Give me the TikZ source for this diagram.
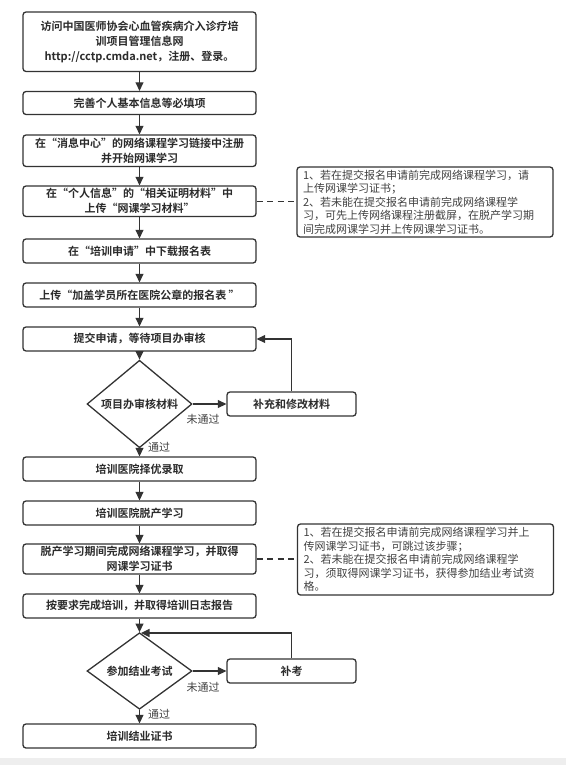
\documentclass[tikz,border=0pt]{standalone}
\usepackage{fontspec}
\setmainfont{Noto Sans CJK SC}[BoldFont={Noto Sans CJK SC Bold}]
\usetikzlibrary{shapes.geometric,arrows.meta}
\definecolor{ln}{HTML}{333333}
\definecolor{txt}{HTML}{2B2B2B}
\definecolor{ntxt}{HTML}{404040}
\definecolor{strip}{HTML}{EEEEEE}
\begin{document}
\begin{tikzpicture}[x=1pt,y=-1pt,
  box/.style={draw=ln,line width=1.3pt,rounded corners=3pt,minimum width=233pt,
    minimum height=24pt,inner sep=0pt,align=center,text=txt,
    font=\fontsize{11}{15}\selectfont\bfseries},
  side/.style={box,minimum width=129pt},
  dia/.style={draw=ln,line width=1.3pt,diamond,minimum width=105pt,minimum height=65pt,
    inner sep=0pt,text=txt,font=\fontsize{11}{15}\selectfont\bfseries},
  note/.style={draw=ln,line width=1.3pt,rounded corners=3pt,text width=244pt,
    minimum height=70pt,inner xsep=6pt,inner ysep=0pt,align=left,text=ntxt,
    font=\fontsize{11}{13.5}\selectfont},
  lbl/.style={inner sep=0pt,text=ntxt,font=\fontsize{11}{13}\selectfont},
  arr/.style={draw=ln,line width=1.2pt,-{Triangle[length=8.5pt,width=8pt]}},
  dsh/.style={draw=ln,line width=1.3pt,dash pattern=on 6pt off 4.5pt}]
\useasboundingbox (0,0) rectangle (566,765);
\fill[strip] (0,758) rectangle (566,765);

\node[box,minimum height=59.5pt] (b1) at (139.5,41.75)
  {访问中国医师协会心血管疾病介入诊疗培\\训项目管理信息网\\http://cctp.cmda.net，注册、登录。};
\node[box,minimum height=23pt] (b2) at (139.5,103) {完善个人基本信息等必填项};
\node[box,minimum height=31.5pt] (b3) at (139.5,150.75)
  {在“消息中心”的网络课程学习链接中注册\\并开始网课学习};
\node[box,minimum height=30.5pt] (b4) at (139.5,201.25)
  {在“个人信息”的“相关证明材料”中\\上传“网课学习材料”};
\node[box] (b5) at (139.5,251) {在“培训申请”中下载报名表};
\node[box] (b6) at (139.5,295) {上传“加盖学员所在医院公章的报名表\ ”};
\node[box] (b7) at (139.5,339) {提交申请，等待项目办审核};
\node[dia] (d1) at (139.5,404) {项目办审核材料};
\node[side] (s1) at (291.5,404) {补充和修改材料};
\node[box] (b8) at (139.5,469) {培训医院择优录取};
\node[box] (b9) at (139.5,513) {培训医院脱产学习};
\node[box,minimum height=30pt] (b10) at (139.5,559)
  {脱产学习期间完成网络课程学习，并取得\\网课学习证书};
\node[box] (b11) at (139.5,606) {按要求完成培训，并取得培训日志报告};
\node[dia,minimum height=66pt] (d2) at (139.5,671) {参加结业考试};
\node[side] (s2) at (291.5,671) {补考};
\node[box] (b12) at (139.5,736) {培训结业证书};

\node[note] (n1) at (425,202)
  {1、若在提交报名申请前完成网络课程学习，请\\上传网课学习证书；\\2、若未能在提交报名申请前完成网络课程学\\习，可先上传网络课程注册截屏，在脱产学习期\\间完成网课学习并上传网课学习证书。};
\node[note,minimum height=71pt] (n2) at (425.5,559.5)
  {1、若在提交报名申请前完成网络课程学习并上\\传网课学习证书，可跳过该步骤；\\2、若未能在提交报名申请前完成网络课程学\\习，须取得网课学习证书，获得参加结业考试资\\格。};

\node[lbl] (l1) at (203,419) {未通过};
\node[lbl] (l2) at (159,447) {通过};
\node[lbl] (l3) at (203,687) {未通过};
\node[lbl] (l4) at (159,714) {通过};

\draw[arr] (b1) -- (b2);
\draw[arr] (b2) -- (b3);
\draw[arr] (b3) -- (b4);
\draw[arr] (b4) -- (b5);
\draw[arr] (b5) -- (b6);
\draw[arr] (b6) -- (b7);
\draw[arr] (b7) -- (d1);
\draw[arr] (d1.east) -- (s1.west);
\draw[arr] (s1.north) |- (b7.east);
\draw[arr] (d1.south) -- (b8.north);
\draw[arr] (b8) -- (b9);
\draw[arr] (b9) -- (b10);
\draw[arr] (b10) -- (b11);
\draw[arr] (b11) -- (d2);
\draw[arr] (d2.east) -- (s2.west);
\coordinate (j2) at (141,633);
\draw[arr] (s2.north) |- (j2);
\draw[arr] (d2.south) -- (b12.north);
\draw[dsh] (b4.east) -- (b4.east -| n1.west);
\draw[dsh] (b10.east) -- (b10.east -| n2.west);
\end{tikzpicture}
\end{document}
